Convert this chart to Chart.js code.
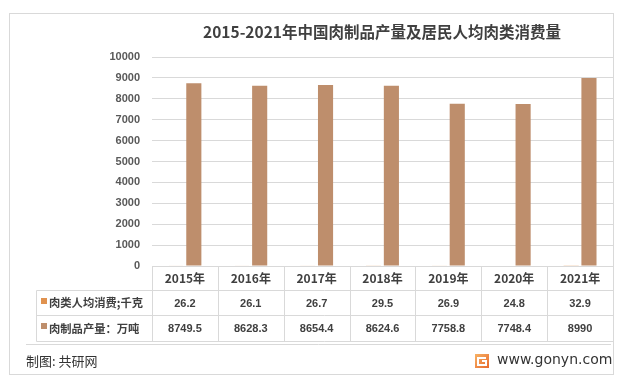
<!DOCTYPE html>
<html>
<head>
<meta charset="utf-8">
<script src="https://cdn.jsdelivr.net/npm/chart.js@4.4.0/dist/chart.umd.min.js"></script>
<style>
  html, body { margin: 0; padding: 0; background: #fff; }
  #wrap { width: 628px; height: 387px; }
</style>
</head>
<body>
<div id="wrap"><canvas id="meatChart" width="628" height="387"></canvas></div>
<script>
const years = ["2015年", "2016年", "2017年", "2018年", "2019年", "2020年", "2021年"];
const consumption = [26.2, 26.1, 26.7, 29.5, 26.9, 24.8, 32.9];
const production = [8749.5, 8628.3, 8654.4, 8624.6, 7758.8, 7748.4, 8990];
const consumptionLabel = "肉类人均消费;千克";
const productionLabel = "肉制品产量：万吨";
const yTicks = [0, 1000, 2000, 3000, 4000, 5000, 6000, 7000, 8000, 9000, 10000];

const lineColor = "#D9D9D9";
const textColor = "#404040";
const cjk = '"Noto Sans CJK SC", sans-serif';

const tablePlugin = {
  id: "tablePlugin",
  afterDraw(chart) {
    const ctx = chart.ctx;
    const area = chart.chartArea;
    const xs = chart.scales.x;
    ctx.save();

    // outer frame
    ctx.strokeStyle = lineColor;
    ctx.lineWidth = 1;
    ctx.strokeRect(9.5, 13.5, 604, 361);

    // title
    ctx.fillStyle = textColor;
    ctx.font = "bold 15.5px " + cjk;
    ctx.textAlign = "center";
    ctx.textBaseline = "middle";
    ctx.fillText("2015-2021年中国肉制品产量及居民人均肉类消费量", 382, 32);

    // column edges from the x scale
    const edges = [area.left];
    for (let i = 0; i < years.length - 1; i++) {
      edges.push((xs.getPixelForValue(i) + xs.getPixelForValue(i + 1)) / 2);
    }
    edges.push(area.right);

    const top = Math.round(area.bottom) + 0.5;
    const r1 = 290.5, r2 = 315.5, r3 = 341.5;
    const legLeft = 36.5;

    ctx.beginPath();
    ctx.moveTo(area.left, top); ctx.lineTo(area.right, top);
    [r1, r2, r3].forEach(y => { ctx.moveTo(legLeft, y); ctx.lineTo(area.right, y); });
    edges.forEach(x => {
      const px = Math.round(x) + 0.5;
      ctx.moveTo(px, top); ctx.lineTo(px, r3);
    });
    ctx.moveTo(legLeft, r1); ctx.lineTo(legLeft, r3);
    ctx.moveTo(26, 344.5); ctx.lineTo(611, 344.5);
    ctx.stroke();

    // header years
    ctx.fillStyle = textColor;
    ctx.font = "bold 12px " + cjk;
    years.forEach((y, i) => ctx.fillText(y, xs.getPixelForValue(i), (top + r1) / 2));

    // values
    ctx.font = "bold 11px 'Liberation Sans', sans-serif";
    consumption.forEach((v, i) => ctx.fillText(String(v), xs.getPixelForValue(i), (r1 + r2) / 2 + 0.5));
    production.forEach((v, i) => ctx.fillText(String(v), xs.getPixelForValue(i), (r2 + r3) / 2 + 0.5));

    // row labels with markers
    ctx.textAlign = "left";
    ctx.font = "bold 11.3px " + cjk;
    ctx.fillStyle = chart.data.datasets[0].backgroundColor;
    ctx.fillRect(41, 298, 6, 6);
    ctx.fillStyle = chart.data.datasets[1].backgroundColor;
    ctx.fillRect(41, 323, 6, 6);
    ctx.fillStyle = textColor;
    ctx.fillText(consumptionLabel, 49, (r1 + r2) / 2);
    ctx.fillText(productionLabel, 49, (r2 + r3) / 2);

    // footer
    ctx.fillStyle = "#333";
    ctx.font = "13px " + cjk;
    ctx.fillText("制图: 共研网", 26, 361);

    const g = ctx.createLinearGradient(475, 354, 489, 368);
    g.addColorStop(0, "#F7B265");
    g.addColorStop(1, "#E8692C");
    ctx.fillStyle = g;
    ctx.fillRect(475, 354, 14, 14);
    ctx.strokeStyle = "#fff";
    ctx.lineWidth = 2;
    ctx.beginPath();
    ctx.moveTo(486, 358); ctx.lineTo(478, 358); ctx.lineTo(478, 365);
    ctx.lineTo(486, 365); ctx.lineTo(486, 361); ctx.lineTo(482, 361);
    ctx.stroke();

    ctx.fillStyle = "#333";
    ctx.font = "14px 'DejaVu Sans', sans-serif";
    ctx.fillText("www.gonyn.com", 497, 360);
    ctx.restore();
  }
};

new Chart(document.getElementById("meatChart").getContext("2d"), {
  type: "bar",
  data: {
    labels: years,
    datasets: [
      {
        label: consumptionLabel,
        data: consumption,
        backgroundColor: "#E0924F",
        categoryPercentage: 0.54,
        barPercentage: 0.85,
      },
      {
        label: productionLabel,
        data: production,
        backgroundColor: "#BE8E6C",
        categoryPercentage: 0.54,
        barPercentage: 0.85,
      },
    ],
  },
  options: {
    responsive: false,
    animation: false,
    layout: { padding: { top: 57, right: 15, bottom: 121, left: 0 } },
    plugins: { legend: { display: false }, tooltip: { enabled: false } },
    scales: {
      x: { display: false },
      y: {
        min: 0,
        max: 10000,
        afterFit: (s) => { s.width = 152; },
        afterBuildTicks: (s) => { s.ticks = yTicks.map(v => ({ value: v })); },
        border: { display: false },
        grid: { color: lineColor, drawTicks: false },
        ticks: {
          padding: 12,
          color: "#595959",
          font: { family: "'Liberation Sans', sans-serif", size: 11, weight: "bold" },
          callback: (v) => String(v),
        },
      },
    },
  },
  plugins: [tablePlugin],
});
</script>
</body>
</html>
